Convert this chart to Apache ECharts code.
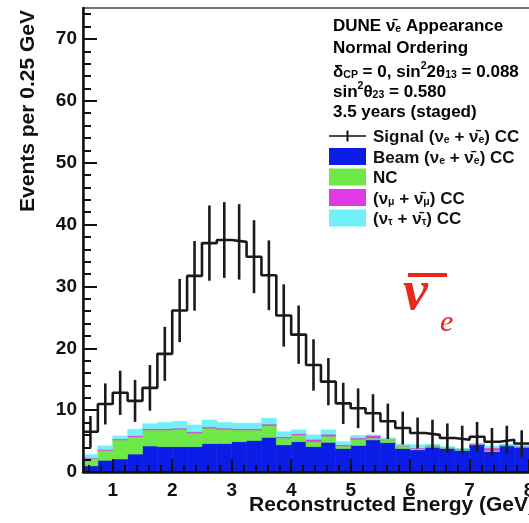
<!DOCTYPE html>
<html><head><meta charset="utf-8">
<script src="https://cdn.jsdelivr.net/npm/echarts@6/dist/echarts.min.js"></script>
<style>html,body{margin:0;padding:0;background:#fff}#c{width:529px;height:523px}</style>
</head><body><div id="c"></div>
<script>
// ---- data ----
const binLowEdges = [0.5,0.75,1,1.25,1.5,1.75,2,2.25,2.5,2.75,3,3.25,3.5,3.75,4,4.25,4.5,4.75,5,5.25,5.5,5.75,6,6.25,6.5,6.75,7,7.25,7.5,7.75];
const binWidth = 0.25;
const signal = [6.5,11.0,12.8,11.5,13.6,19.1,26.1,31.7,37.0,37.5,37.2,34.8,31.8,25.3,22.2,17.3,14.6,11.1,10.3,9.5,8.2,7.1,6.3,6.0,5.5,5.2,5.7,4.9,5.2,4.6];
const beamCC = [1.0,1.9,2.1,2.9,4.2,4.1,4.1,4.1,4.6,4.6,4.9,5.1,5.6,4.4,4.9,4.1,4.8,3.8,4.3,5.2,4.75,3.8,3.6,4.0,3.8,3.5,4.4,3.3,4.2,4.0];
const ncBkg = [1.2,1.6,3.1,2.8,2.6,2.7,2.8,2.2,2.5,2.3,1.9,1.7,1.9,1.1,1.1,0.8,1.0,0.4,1.0,0.3,0.45,0.4,0.2,0.2,0.1,0.2,0.1,0.2,0.1,0.1];
const numuCC = [0.1,0.15,0.15,0.2,0.2,0.2,0.2,0.2,0.2,0.2,0.2,0.2,0.25,0.2,0.2,0.4,0.3,0.2,0.2,0.4,0.1,0.1,0.1,0.1,0.05,0.05,0.05,0.4,0.05,0.05];
const nutauCC = [0.5,0.55,0.45,1.0,0.8,1.0,1.1,1.1,1.1,0.9,0.9,0.9,0.95,0.8,0.6,0.7,0.7,0.5,0.4,0.1,0.2,0.2,0.5,0.2,0.15,0.05,0.05,0.3,0.15,0.25];
const xTickLabels = [1,2,3,4,5,6,7,8];
const yTickLabels = [0,10,20,30,40,50,60,70];

const names = {
  sig: 'Signal (νe + ν̄e) CC',
  beam: 'Beam (νe + ν̄e) CC',
  nc: 'NC',
  numu: '(νμ + ν̄μ) CC',
  nutau: '(ντ + ν̄τ) CC'
};
const richNames = {};
richNames[names.sig] = '{m|Signal (ν}{s|e}{m| + ν\u0304}{s|e}{m|) CC}';
richNames[names.beam] = '{m|Beam (ν}{s|e}{m| + ν\u0304}{s|e}{m|) CC}';
richNames[names.nc] = '{m|NC}';
richNames[names.numu] = '{m|(ν}{s|μ}{m| + ν\u0304}{s|μ}{m|) CC}';
richNames[names.nutau] = '{m|(ν}{s|τ}{m| + ν\u0304}{s|τ}{m|) CC}';

const FONT = '"Liberation Sans", Arial, Helvetica, sans-serif';
const rich = {
  m: {fontFamily: FONT, fontSize: 17, fontWeight: 'bold', color: '#111', lineHeight: 20, verticalAlign: 'bottom'},
  s: {fontFamily: FONT, fontSize: 10.5, fontWeight: 'bold', color: '#111', lineHeight: 8, verticalAlign: 'bottom'},
  p: {fontFamily: FONT, fontSize: 10.5, fontWeight: 'bold', color: '#111', lineHeight: 8, verticalAlign: 'top'}
};

// stacked background table
const comps = [
  {name: names.beam, vals: beamCC, color: '#0a1ce6'},
  {name: names.nc, vals: ncBkg, color: '#6ee846'},
  {name: names.numu, vals: numuCC, color: '#e03ae6'},
  {name: names.nutau, vals: nutauCC, color: '#70f0f8'}
];
const cum = binLowEdges.map(() => 0);
const stackSeries = comps.map((c, k) => {
  const data = binLowEdges.map((lo, i) => {
    const base = cum[i];
    cum[i] += c.vals[i];
    return [lo, lo + binWidth, base, cum[i]];
  });
  return {
    type: 'custom', name: c.name, z: 2 + k * 0.01,
    itemStyle: {color: c.color},
    encode: {x: [0, 1], y: [2, 3]},
    clip: true,
    data: data,
    renderItem: function (params, api) {
      const p0 = api.coord([api.value(0), api.value(3)]);
      const p1 = api.coord([api.value(1), api.value(2)]);
      return {type: 'rect', shape: {x: p0[0], y: p0[1], width: p1[0] - p0[0], height: p1[1] - p0[1]},
        style: {fill: c.color, stroke: c.color, lineWidth: 0.6}};
    }
  };
});

const stepData = binLowEdges.map((lo, i) => [lo, signal[i]]);
stepData.push([binLowEdges[binLowEdges.length - 1] + binWidth, signal[signal.length - 1]]);
const errData = binLowEdges.map((lo, i) => [lo + binWidth / 2, signal[i] - Math.sqrt(signal[i]), signal[i] + Math.sqrt(signal[i])]);

const minorX = [];
for (let v = 0.6; v < 8.3; v += 0.2) { const r = Math.round(v * 10) / 10; if (Math.abs(r - Math.round(r)) > 1e-6) minorX.push(r); }
const minorY = [];
for (let v = 2; v < 75; v += 2) { if (v % 10 !== 0) minorY.push(v); }

const gridPos = {left: 83, top: 8, right: -15, bottom: 51};
const chart = echarts.init(document.getElementById('c'), null, {renderer: 'canvas'});
const axisCommon = {nameMoveOverlap: false};
chart.setOption({
  animation: false,
  backgroundColor: '#fff',
  grid: [
    Object.assign({show: true, borderColor: '#444', borderWidth: 1.5, backgroundColor: 'transparent', outerBoundsMode: 'none', containLabel: false}, gridPos),
    Object.assign({show: false, outerBoundsMode: 'none', containLabel: false}, gridPos)
  ],
  xAxis: [
    Object.assign({}, axisCommon, {
      type: 'value', gridIndex: 0, min: 0.5, max: 8.25, z: 10,
      name: 'Reconstructed Energy (GeV)', nameLocation: 'end', nameGap: -9,
      nameTextStyle: {fontFamily: FONT, fontSize: 21, fontWeight: 'bold', color: '#111', align: 'right', verticalAlign: 'top', padding: [23, 0, 0, 0]},
      axisLine: {show: true, lineStyle: {color: '#111', width: 2.5}},
      axisTick: {show: true, inside: true, length: 13, customValues: xTickLabels, lineStyle: {color: '#111', width: 2}},
      axisLabel: {show: true, customValues: xTickLabels, margin: 9, fontFamily: FONT, fontSize: 19, fontWeight: 'bold', color: '#111'},
      splitLine: {show: false}
    }),
    {type: 'value', gridIndex: 1, min: 0.5, max: 8.25, z: 10, position: 'bottom',
      axisLine: {show: false}, axisLabel: {show: false}, splitLine: {show: false},
      axisTick: {show: true, inside: true, length: 7, customValues: minorX, lineStyle: {color: '#111', width: 2}}}
  ],
  yAxis: [
    Object.assign({}, axisCommon, {
      type: 'value', gridIndex: 0, min: 0, max: 75, z: 10,
      name: 'Events per 0.25 GeV', nameLocation: 'end', nameGap: -2, nameRotate: 90,
      nameTextStyle: {fontFamily: FONT, fontSize: 21, fontWeight: 'bold', color: '#111', align: 'right', verticalAlign: 'bottom', padding: [0, 0, 44, 0]},
      axisLine: {show: true, lineStyle: {color: '#111', width: 2.5}},
      axisTick: {show: true, inside: true, length: 14, customValues: yTickLabels, lineStyle: {color: '#111', width: 2}},
      axisLabel: {show: true, customValues: yTickLabels, margin: 6, fontFamily: FONT, fontSize: 19, fontWeight: 'bold', color: '#111'},
      splitLine: {show: false}
    }),
    {type: 'value', gridIndex: 1, min: 0, max: 75, z: 10, position: 'left',
      axisLine: {show: false}, axisLabel: {show: false}, splitLine: {show: false},
      axisTick: {show: true, inside: true, length: 8, customValues: minorY, lineStyle: {color: '#111', width: 2}}}
  ],
  legend: {
    orient: 'vertical', left: 329, top: 129, padding: 0, itemGap: 2,
    itemWidth: 37, itemHeight: 17, selectedMode: false,
    data: [
      {name: names.sig, icon: 'path://M0,7.7 L37,7.7 L37,9.3 L0,9.3 Z M17.5,3 L19.5,3 L19.5,14 L17.5,14 Z', itemStyle: {color: '#111'}},
      {name: names.beam, icon: 'rect'},
      {name: names.nc, icon: 'rect'},
      {name: names.numu, icon: 'rect'},
      {name: names.nutau, icon: 'rect'}
    ],
    formatter: function (n) { return richNames[n] || n; },
    textStyle: {rich: rich, padding: [0, 0, 0, 2]}
  },
  graphic: [
    {type: 'text', left: 333, top: 18, style: {text: '{m|DUNE ν\u0304}{s|e}{m| Appearance}', rich: rich}},
    {type: 'text', left: 333, top: 40, style: {text: '{m|Normal Ordering}', rich: rich}},
    {type: 'text', left: 333, top: 61, style: {text: '{m|δ}{s|CP}{m| = 0, sin}{p|2}{m|2θ}{s|13}{m| = 0.088}', rich: rich}},
    {type: 'text', left: 333, top: 81, style: {text: '{m|sin}{p|2}{m|θ}{s|23}{m| = 0.580}', rich: rich}},
    {type: 'text', left: 333, top: 104, style: {text: '{m|3.5 years (staged)}', rich: rich}},
    {type: 'text', x: 403, y: 295, style: {text: 'ν', font: 'italic bold 56px "Liberation Serif", serif', fill: '#e8281c', verticalAlign: 'middle', align: 'left'}},
    {type: 'rect', shape: {x: 408, y: 273, width: 39, height: 4}, style: {fill: '#e8281c'}},
    {type: 'text', x: 440, y: 323, style: {text: 'e', font: 'italic 30px "Liberation Serif", serif', fill: '#e8281c', verticalAlign: 'middle', align: 'left'}}
  ],
  series: stackSeries.concat([
    {type: 'line', name: names.sig, data: stepData, step: 'end', symbol: 'none', z: 5, clip: true,
      itemStyle: {color: '#111'}, lineStyle: {color: '#1a1a1a', width: 2.6}},
    {type: 'custom', name: 'errors', z: 5, clip: true, data: errData, encode: {x: 0, y: [1, 2]},
      renderItem: function (params, api) {
        const a = api.coord([api.value(0), api.value(1)]);
        const b = api.coord([api.value(0), api.value(2)]);
        return {type: 'line', shape: {x1: a[0], y1: a[1], x2: b[0], y2: b[1]}, style: {stroke: '#1a1a1a', lineWidth: 2.6}};
      }}
  ])
});
</script></body></html>
